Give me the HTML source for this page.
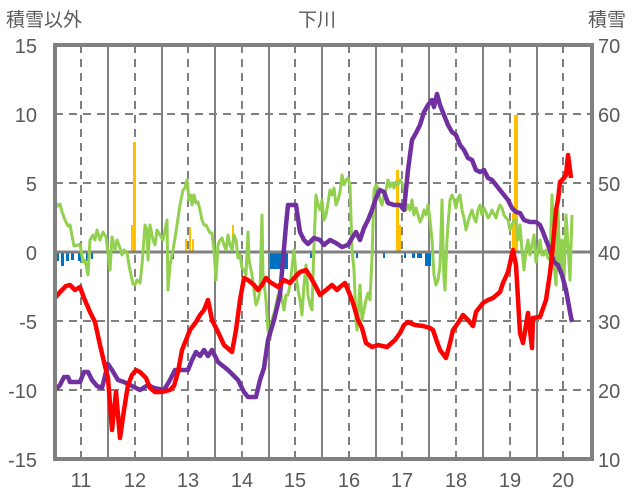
<!DOCTYPE html><html><head><meta charset="utf-8"><style>body{margin:0;background:#fff}svg{display:block}text{font-family:"Liberation Sans","Noto Sans CJK JP",sans-serif;fill:#595959}</style></head><body>
<svg width="636" height="501" viewBox="0 0 636 501">
<g font-size="20">
<text x="6" y="26" font-size="19">積雪以外</text>
<text x="298" y="26" font-size="19">下川</text>
<text x="588" y="26" font-size="19">積雪</text>
<g text-anchor="end"><text x="37" y="53">15</text><text x="37" y="122">10</text><text x="37" y="191">5</text><text x="37" y="260">0</text><text x="37" y="329">-5</text><text x="37" y="398">-10</text><text x="37" y="467">-15</text></g>
<g><text x="598" y="53">70</text><text x="598" y="122">60</text><text x="598" y="191">50</text><text x="598" y="260">40</text><text x="598" y="329">30</text><text x="598" y="398">20</text><text x="598" y="467">10</text></g>
<g text-anchor="middle"><text x="81" y="487">11</text><text x="135" y="487">12</text><text x="188" y="487">13</text><text x="242" y="487">14</text><text x="295" y="487">15</text><text x="349" y="487">16</text><text x="402" y="487">17</text><text x="456" y="487">18</text><text x="510" y="487">19</text><text x="563" y="487">20</text></g>
</g>
<g stroke="#808080" stroke-width="2" stroke-dasharray="8,6"><path d="M55 114H592M55 183H592M55 321H592M55 390H592"/>
<path d="M81 45V459M135 45V459M188 45V459M242 45V459M295 45V459M349 45V459M402 45V459M456 45V459M510 45V459M563 45V459"/></g>
<g stroke="#808080" stroke-width="2"><path d="M108 45V459M162 45V459M215 45V459M269 45V459M322 45V459M376 45V459M429 45V459M483 45V459M537 45V459"/></g>
<g fill="#ffc000"><rect x="133" y="142" width="3" height="110"/><rect x="131" y="225" width="3" height="27"/><rect x="185" y="239" width="2" height="13"/><rect x="189" y="227" width="2" height="25"/><rect x="192" y="239" width="2" height="13"/><rect x="232" y="225" width="2" height="27"/><rect x="396" y="170" width="3" height="82"/><rect x="399" y="225" width="2" height="27"/><rect x="514" y="115" width="4" height="137"/><rect x="512" y="213" width="6" height="39"/></g>
<g fill="#0070c0"><rect x="56" y="253" width="3" height="8"/><rect x="61" y="253" width="3" height="13"/><rect x="66" y="253" width="3" height="8"/><rect x="71" y="253" width="3" height="7"/><rect x="78" y="253" width="3" height="8"/><rect x="86" y="253" width="3" height="8"/><rect x="91" y="253" width="2" height="6"/><rect x="172" y="253" width="2" height="6"/><rect x="270" y="253" width="18" height="16"/><rect x="310" y="253" width="2" height="5"/><rect x="356" y="253" width="2" height="5"/><rect x="383" y="253" width="2" height="5"/><rect x="404" y="253" width="2" height="5"/><rect x="412" y="253" width="3" height="5"/><rect x="417" y="253" width="5" height="5"/><rect x="425" y="253" width="6" height="13"/></g>
<path d="M55 252H592" stroke="#808080" stroke-width="3"/>
<polyline fill="none" stroke="#92d050" stroke-width="3" stroke-linejoin="round" points="55,202 58,206 60,204 62,212 65,220 68,226 70,225 74,246 78,245 80,244 83,262 85,260 88,275 90,240 93,235 95,240 97,230 100,240 103,232 106,237 110,270 112,237 115,250 117,240 119,245 122,255 124,250 127,252 129,265 131,275 133,284 135,285 137,280 140,283 142,265 145,225 147,230 148,260 150,225 153,240 155,245 157,230 160,235 163,240 165,230 167,220 168,290 170,265 173,250 175,238 177,225 180,205 183,190 185,188 187,180 189,200 191,195 192,205 194,195 196,203 198,202 200,210 202,220 204,225 206,225 210,233 212,233 214,250 216,280 218,245 220,240 222,238 224,245 226,250 228,235 230,245 232,250 234,235 236,240 238,258 240,255 242,268 244,270 246,275 248,232 249,260 252,275 254,290 256,305 258,300 260,290 262,215 263,275 266,300 268,330 270,340 272,320 275,310 278,295 280,290 282,300 284,310 286,295 288,295 290,285 292,268 294,250 296,275 298,290 300,300 302,315 304,285 306,265 308,295 310,305 312,310 314,245 316,195 318,205 320,210 322,200 324,220 326,215 328,203 330,190 332,195 334,188 336,205 338,200 340,192 342,175 344,185 346,180 348,178 350,185 352,250 354,270 356,320 357,330 359,300 360,285 362,320 364,310 366,300 368,293 370,300 372,258 374,190 376,185 378,188 380,200 382,205 384,195 386,190 388,180 390,187 392,183 394,188 396,182 398,185 400,180 402,183 404,190 406,210 408,205 410,210 412,200 414,215 416,208 418,215 420,222 422,218 424,210 426,215 428,205 430,220 432,240 434,275 436,285 438,280 440,265 442,200 443,245 444,280 445,290 447,240 448,225 450,200 452,195 454,200 456,208 458,198 460,195 462,210 464,218 466,230 468,222 470,215 472,210 474,218 476,222 478,210 480,205 482,215 484,208 486,212 488,218 490,215 492,210 494,214 496,218 498,210 500,205 502,208 504,215 506,218 508,220 510,230 512,225 514,220 516,220 518,240 520,225 522,250 524,270 526,250 528,240 530,255 532,245 534,235 536,262 538,252 540,240 542,255 544,255 546,250 548,258 550,260 552,195 554,265 556,285 558,210 560,270 562,240 564,280 566,215 568,245 570,280 572,215"/>
<polyline fill="none" stroke="#7030a0" stroke-width="4.5" stroke-linejoin="round" points="55,390 60,385 64,377 68,377 70,382 80,382 84,372 88,372 92,380 97,386 102,388 105,376 108,364 112,370 118,380 124,382 130,385 140,390 148,385 154,388 164,390 170,380 175,370 188,370 192,360 196,352 200,356 204,350 208,356 212,350 218,362 228,370 238,380 244,392 248,397 256,397 260,380 264,368 268,340 274,320 280,295 283,260 286,225 288,205 296,205 300,232 304,240 308,244 314,238 320,240 324,245 330,240 336,243 342,247 348,245 352,238 356,232 360,240 364,228 368,220 372,210 376,198 380,190 384,192 388,203 394,205 400,205 404,210 408,170 412,140 416,133 420,125 424,112 428,105 432,100 434,107 437,94 440,105 444,115 448,125 452,132 456,135 460,145 464,150 468,158 472,160 476,170 480,172 484,170 488,178 492,180 496,185 500,190 504,195 508,200 512,208 516,212 520,213 524,220 530,222 536,222 540,225 543,232 546,240 550,250 554,262 558,265 562,275 566,290 570,312 572,322"/>
<polyline fill="none" stroke="#ff0000" stroke-width="4.5" stroke-linejoin="round" points="55,298 60,292 66,286 70,285 75,290 80,287 84,298 90,312 95,322 100,345 104,362 108,378 112,430 116,392 120,438 124,410 128,385 132,375 136,370 140,372 146,378 150,388 155,392 162,392 170,390 174,386 178,372 182,350 186,340 190,330 196,322 200,315 204,310 208,300 212,320 218,332 224,345 232,352 236,330 240,300 244,278 248,280 254,285 258,290 262,285 266,278 270,282 278,287 284,280 290,283 296,276 300,272 306,270 310,276 316,287 320,295 326,290 332,285 337,290 340,287 345,283 350,295 353,303 358,320 362,328 366,343 372,347 378,345 387,347 395,340 400,333 404,325 408,322 415,325 423,326 430,328 433,330 437,342 440,350 446,358 450,343 453,330 458,323 463,315 468,320 473,326 476,312 483,303 488,300 493,298 500,292 503,283 508,272 513,250 516,265 520,333 523,343 528,313 532,348 533,318 540,317 546,300 550,273 553,245 556,210 558,200 560,182 562,180 564,178 566,175 568,155 570,170 571,178"/>
<rect x="55" y="45" width="537" height="414" fill="none" stroke="#808080" stroke-width="4"/>
</svg></body></html>
